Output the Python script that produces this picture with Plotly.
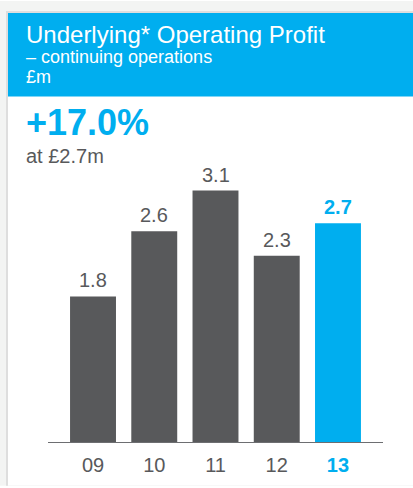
import plotly.graph_objects as go

years = ["09", "10", "11", "12", "13"]
values = [1.8, 2.6, 3.1, 2.3, 2.7]
labels = ["1.8", "2.6", "3.1", "2.3", "2.7"]

W, H = 413, 488
L, R, T, B = 48, 30, 158, 43
YMAX = 3.5
pw, ph = W - L - R, H - T - B

def px(x):
    return (x - L) / pw

def py(y):
    return (H - B - y) / ph

GRAY = "#58595b"
BLUE = "#00aeef"
FONT = "Liberation Sans, Arial, sans-serif"

colors = [GRAY] * 4 + [BLUE]

fig = go.Figure(go.Bar(x=list(range(len(years))), y=values, marker_color=colors,
                       marker_line_width=0, width=0.75, hoverinfo="skip"))

shapes = [
    # page background gray
    dict(type="rect", xref="paper", yref="paper", x0=px(0), x1=px(W), y0=py(0), y1=py(H),
         fillcolor="#f3f4f3", line_width=0, layer="below"),
    # border
    dict(type="rect", xref="paper", yref="paper", x0=px(6), x1=px(W), y0=py(10), y1=py(H),
         fillcolor="#dedede", line_width=0, layer="below"),
    # white panel
    dict(type="rect", xref="paper", yref="paper", x0=px(8), x1=px(W), y0=py(12), y1=py(H),
         fillcolor="white", line_width=0, layer="below"),
    # header
    dict(type="rect", xref="paper", yref="paper", x0=px(8), x1=px(W), y0=py(12), y1=py(96),
         fillcolor=BLUE, line_width=0, layer="below"),
    # axis line
    dict(type="line", xref="paper", yref="y", x0=0, x1=1, y0=0, y1=0,
         line=dict(color="#6d6e71", width=2)),
]

ann = []
def text(t, x, baseline, size, color, bold=False):
    s = f"<b>{t}</b>" if bold else t
    ann.append(dict(text=s, xref="paper", yref="paper", x=px(x), y=py(baseline - 0.35 * size),
                    xanchor="left", yanchor="middle", showarrow=False,
                    font=dict(family=FONT, size=size, color=color)))

text("Underlying* Operating Profit", 24, 42, 24, "white")
text("– continuing operations", 24, 63, 18, "white")
text("£m", 24, 83, 18, "white")
text("+17.0%", 24, 135, 36, BLUE, bold=True)
text("at £2.7m", 24, 163, 20, GRAY)

for i, (v, lab) in enumerate(zip(values, labels)):
    last = i == len(values) - 1
    ann.append(dict(text=f"<b>{lab}</b>" if last else lab, x=i, y=v, xref="x", yref="y",
                    xanchor="center", yanchor="bottom", yshift=3, showarrow=False,
                    font=dict(family=FONT, size=20, color=BLUE if last else GRAY)))

ticktext = [y if i < len(years) - 1 else f"<b><span style='color:{BLUE}'>{y}</span></b>"
            for i, y in enumerate(years)]

fig.update_layout(
    width=W, height=H,
    margin=dict(l=L, r=R, t=T, b=B, pad=0),
    paper_bgcolor="white", plot_bgcolor="rgba(0,0,0,0)",
    shapes=shapes, annotations=ann, showlegend=False,
    bargap=0.25,
    xaxis=dict(range=[-0.735, 4.735], tickmode="array", tickvals=list(range(len(years))),
               ticktext=ticktext, showgrid=False, zeroline=False, showline=False,
               ticks="", ticklabelstandoff=8, fixedrange=True,
               tickfont=dict(family=FONT, size=20, color=GRAY)),
    yaxis=dict(range=[0, YMAX], visible=False, fixedrange=True),
    font=dict(family=FONT),
)

fig.write_html("out.html", config={"displayModeBar": False})
